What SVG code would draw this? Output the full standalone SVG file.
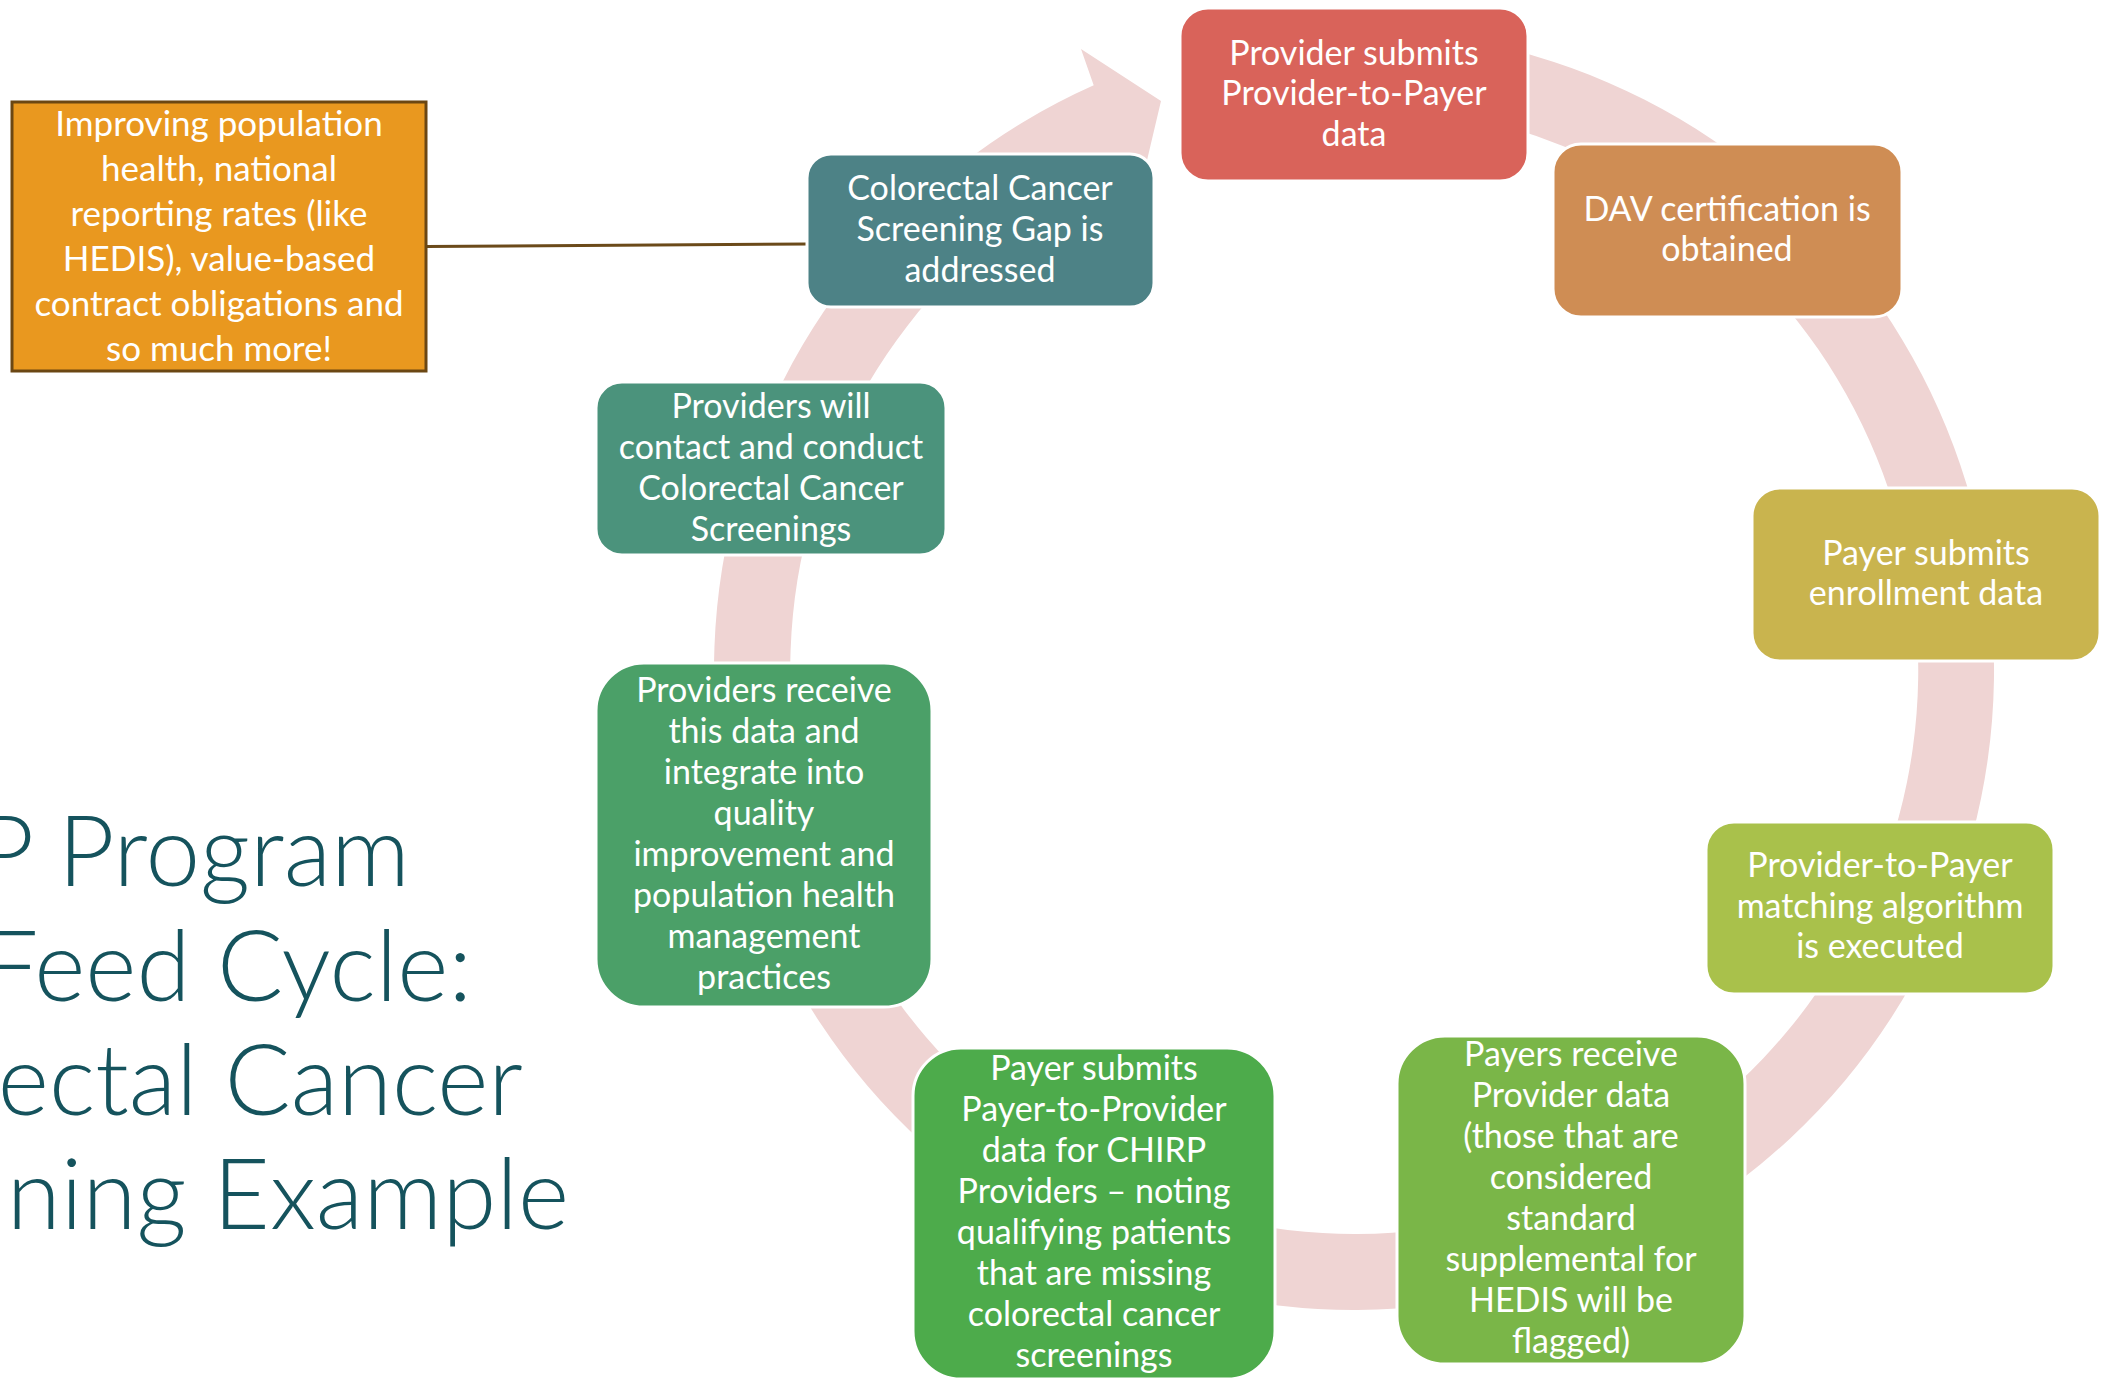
<svg xmlns="http://www.w3.org/2000/svg" width="2110" height="1382" viewBox="0 0 2110 1382">
  <style>
    .node { stroke: #FFFFFF; stroke-width: 3; }
    .lbl { font-family: Lato, "Open Sans", "Liberation Sans", sans-serif; font-size: 34px; fill: #FFFFFF; text-anchor: middle; }
    .note { font-family: Lato, "Open Sans", "Liberation Sans", sans-serif; font-size: 35px; fill: #FFFFFF; text-anchor: middle; }
    .title { font-family: Lato, "Open Sans", "Liberation Sans", sans-serif; font-weight: 300; font-size: 98px; fill: #15535D; text-anchor: end; }
    .ring { fill: #EFD4D3; }
    .link { stroke: #6B4A1A; stroke-width: 3; fill: none; }
  </style>

  <rect width="2110" height="1382" fill="#FFFFFF"/>

  <!-- heading, running off the left edge -->
  <g id="title">
    <text class="title" x="410" y="886">P Program</text>
    <text class="title" x="472" y="1001">Feed Cycle:</text>
    <text class="title" x="523" y="1115">ectal Cancer</text>
    <text class="title" x="569" y="1229">ning Example</text>
  </g>

  <!-- circular arrow behind the cycle steps -->
  <g id="cycle-ring">
    <path class="ring" d="M 1298.2,32.4 A 640 640 0 1 1 1093.7,85.3 L 1081,49 L 1161,101 L 1140.1,189.5 L 1124.6,154.8 A 564 564 0 1 0 1304.8,108.1 Z"/>
  </g>

  <g id="connectors">
    <line class="link" x1="426" y1="246.5" x2="808" y2="244"/>
  </g>

  <g id="note-benefits">
    <rect x="12" y="102" width="414" height="269" fill="#E9981F" stroke="#6B4713" stroke-width="3"/>
    <text class="note" x="219" y="136">Improving population</text>
    <text class="note" x="219" y="181">health, national</text>
    <text class="note" x="219" y="226">reporting rates (like</text>
    <text class="note" x="219" y="271">HEDIS), value-based</text>
    <text class="note" x="219" y="316">contract obligations and</text>
    <text class="note" x="219" y="361">so much more!</text>
  </g>

  <g id="step-provider-submits">
    <rect class="node" x="1180" y="8" width="348" height="173" rx="28" fill="#D9635A"/>
    <text class="lbl" x="1354" y="65">Provider submits</text>
    <text class="lbl" x="1354" y="105">Provider-to-Payer</text>
    <text class="lbl" x="1354" y="146">data</text>
  </g>

  <g id="step-dav">
    <rect class="node" x="1553" y="144" width="349" height="173" rx="28" fill="#CF8D54"/>
    <text class="lbl" x="1727" y="221">DAV certification is</text>
    <text class="lbl" x="1727" y="261">obtained</text>
  </g>

  <g id="step-enrollment">
    <rect class="node" x="1752" y="488" width="348" height="173" rx="28" fill="#C9B44E"/>
    <text class="lbl" x="1926" y="565">Payer submits</text>
    <text class="lbl" x="1926" y="605">enrollment data</text>
  </g>

  <g id="step-matching">
    <rect class="node" x="1706" y="822" width="348" height="172" rx="28" fill="#A9C14B"/>
    <text class="lbl" x="1880" y="877">Provider-to-Payer</text>
    <text class="lbl" x="1880" y="918">matching algorithm</text>
    <text class="lbl" x="1880" y="958">is executed</text>
  </g>

  <g id="step-payers-receive">
    <rect class="node" x="1397" y="1036" width="348" height="328" rx="48" fill="#7AB648"/>
    <text class="lbl" x="1571" y="1066">Payers receive</text>
    <text class="lbl" x="1571" y="1107">Provider data</text>
    <text class="lbl" x="1571" y="1148">(those that are</text>
    <text class="lbl" x="1571" y="1189">considered</text>
    <text class="lbl" x="1571" y="1230">standard</text>
    <text class="lbl" x="1571" y="1271">supplemental for</text>
    <text class="lbl" x="1571" y="1312">HEDIS will be</text>
    <text class="lbl" x="1571" y="1353">flagged)</text>
  </g>

  <g id="step-payer-submits">
    <rect class="node" x="913" y="1048" width="362" height="331" rx="48" fill="#4DAB4B"/>
    <text class="lbl" x="1094" y="1080">Payer submits</text>
    <text class="lbl" x="1094" y="1121">Payer-to-Provider</text>
    <text class="lbl" x="1094" y="1162">data for CHIRP</text>
    <text class="lbl" x="1094" y="1203">Providers – noting</text>
    <text class="lbl" x="1094" y="1244">qualifying patients</text>
    <text class="lbl" x="1094" y="1285">that are missing</text>
    <text class="lbl" x="1094" y="1326">colorectal cancer</text>
    <text class="lbl" x="1094" y="1367">screenings</text>
  </g>

  <g id="step-providers-receive">
    <rect class="node" x="596" y="663" width="336" height="344" rx="48" fill="#4BA068"/>
    <text class="lbl" x="764" y="702">Providers receive</text>
    <text class="lbl" x="764" y="743">this data and</text>
    <text class="lbl" x="764" y="784">integrate into</text>
    <text class="lbl" x="764" y="825">quality</text>
    <text class="lbl" x="764" y="866">improvement and</text>
    <text class="lbl" x="764" y="907">population health</text>
    <text class="lbl" x="764" y="948">management</text>
    <text class="lbl" x="764" y="989">practices</text>
  </g>

  <g id="step-providers-contact">
    <rect class="node" x="596" y="382" width="350" height="173" rx="26" fill="#4B937C"/>
    <text class="lbl" x="771" y="418">Providers will</text>
    <text class="lbl" x="771" y="459">contact and conduct</text>
    <text class="lbl" x="771" y="500">Colorectal Cancer</text>
    <text class="lbl" x="771" y="541">Screenings</text>
  </g>

  <g id="step-gap-addressed">
    <rect class="node" x="807" y="154" width="347" height="153" rx="24" fill="#4D8286"/>
    <text class="lbl" x="980" y="200">Colorectal Cancer</text>
    <text class="lbl" x="980" y="241">Screening Gap is</text>
    <text class="lbl" x="980" y="282">addressed</text>
  </g>
</svg>
